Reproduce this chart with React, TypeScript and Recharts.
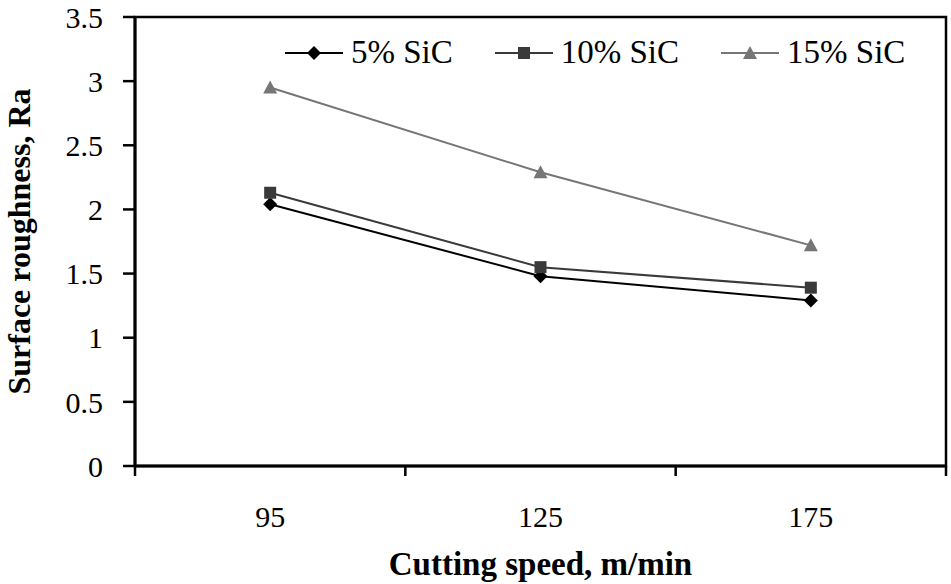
import {
  LineChart,
  Line,
  XAxis,
  YAxis,
  Legend,
  ReferenceArea,
} from "recharts";

const speeds = ["95", "125", "175"];
const sic5 = [2.04, 1.48, 1.29];
const sic10 = [2.13, 1.55, 1.39];
const sic15 = [2.95, 2.29, 1.72];
const yTicks = [0, 0.5, 1, 1.5, 2, 2.5, 3, 3.5];

const data = speeds.map((s, i) => ({
  speed: s,
  sic5: sic5[i],
  sic10: sic10[i],
  sic15: sic15[i],
}));

const font = "'Liberation Serif', 'Times New Roman', serif";

const colors = {
  sic5: "#000000",
  sic10: "#3a3a3a",
  sic15: "#767676",
};

const Diamond = ({ cx, cy, fill }: any) => (
  <path
    d={`M${cx},${cy - 7} L${cx + 7},${cy} L${cx},${cy + 7} L${cx - 7},${cy} Z`}
    fill={fill}
  />
);

const Square = ({ cx, cy, fill }: any) => (
  <rect x={cx - 6} y={cy - 6} width={12} height={12} fill={fill} />
);

const Triangle = ({ cx, cy, fill }: any) => (
  <path
    d={`M${cx},${cy - 7} L${cx + 7},${cy + 6} L${cx - 7},${cy + 6} Z`}
    fill={fill}
  />
);

const series = [
  { key: "sic5", name: "5% SiC", Shape: Diamond },
  { key: "sic10", name: "10% SiC", Shape: Square },
  { key: "sic15", name: "15% SiC", Shape: Triangle },
];

// category ticks: label in the middle of the band, tick marks on the band edges
const XTick = (props: any) => {
  const { x, y, payload, index, visibleTicksCount, width } = props;
  const half =
    payload && payload.offset ? payload.offset : width / visibleTicksCount / 2;
  return (
    <g>
      <line x1={x - half} y1={y} x2={x - half} y2={y + 10} stroke="#000" strokeWidth={2.5} />
      {index === visibleTicksCount - 1 && (
        <line x1={x + half} y1={y} x2={x + half} y2={y + 10} stroke="#000" strokeWidth={2.5} />
      )}
      <text x={x} y={y + 61} textAnchor="middle" fontSize={30} fontFamily={font} fill="#000">
        {payload.value}
      </text>
    </g>
  );
};

const LegendContent = () => (
  <div style={{ display: "flex", alignItems: "center", fontFamily: font, fontSize: 33, color: "#000" }}>
    {series.map(({ key, name, Shape }) => (
      <div key={key} style={{ display: "flex", alignItems: "center", marginRight: 42 }}>
        <svg width={58} height={20} style={{ marginRight: 8 }}>
          <line x1={0} y1={10} x2={58} y2={10} stroke={colors[key]} strokeWidth={2} />
          <Shape cx={29} cy={10} fill={colors[key]} />
        </svg>
        <span style={{ lineHeight: 1 }}>{name}</span>
      </div>
    ))}
  </div>
);

export default function App() {
  return (
    <div style={{ width: 951, height: 584, background: "#fff" }}>
      <style>{`body { margin: 0; }`}</style>
      <LineChart
        width={951}
        height={584}
        data={data}
        margin={{ top: 17, right: 5, bottom: 0, left: 0 }}
      >
        <XAxis
          dataKey="speed"
          scale="band"
          height={118}
          axisLine={{ stroke: "#000", strokeWidth: 3 }}
          tickLine={false}
          tickSize={0}
          tickMargin={0}
          tick={<XTick />}
          interval={0}
          label={{
            content: ({ viewBox }: any) => (
              <text
                x={viewBox.x + viewBox.width / 2}
                y={575}
                textAnchor="middle"
                fontSize={33}
                fontWeight="bold"
                fontFamily={font}
                fill="#000"
              >
                Cutting speed, m/min
              </text>
            ),
          }}
        />
        <YAxis
          width={135}
          domain={[0, 3.5]}
          ticks={yTicks}
          interval={0}
          axisLine={{ stroke: "#000", strokeWidth: 3 }}
          tickLine={{ stroke: "#000", strokeWidth: 2.5 }}
          tickSize={12}
          tickMargin={20}
          tick={{ fontSize: 30, fontFamily: font, fill: "#000" }}
          label={{
            content: ({ viewBox }: any) => (
              <text
                transform={`translate(30, ${viewBox.y + viewBox.height / 2}) rotate(-90)`}
                textAnchor="middle"
                fontSize={32}
                fontWeight="bold"
                fontFamily={font}
                fill="#000"
              >
                Surface roughness, Ra
              </text>
            ),
          }}
        />
        <ReferenceArea
          y1={0}
          y2={3.5}
          fill="none"
          fillOpacity={0}
          stroke="#000"
          strokeWidth={2.5}
        />
        <Legend
          layout="horizontal"
          verticalAlign="middle"
          align="center"
          content={<LegendContent />}
          wrapperStyle={{ top: 36, left: 285, width: "auto" }}
        />
        {series.map(({ key, name, Shape }) => (
          <Line
            key={key}
            type="linear"
            dataKey={key}
            name={name}
            stroke={colors[key]}
            strokeWidth={2}
            dot={<Shape fill={colors[key]} />}
            activeDot={false}
            isAnimationActive={false}
          />
        ))}
      </LineChart>
    </div>
  );
}
